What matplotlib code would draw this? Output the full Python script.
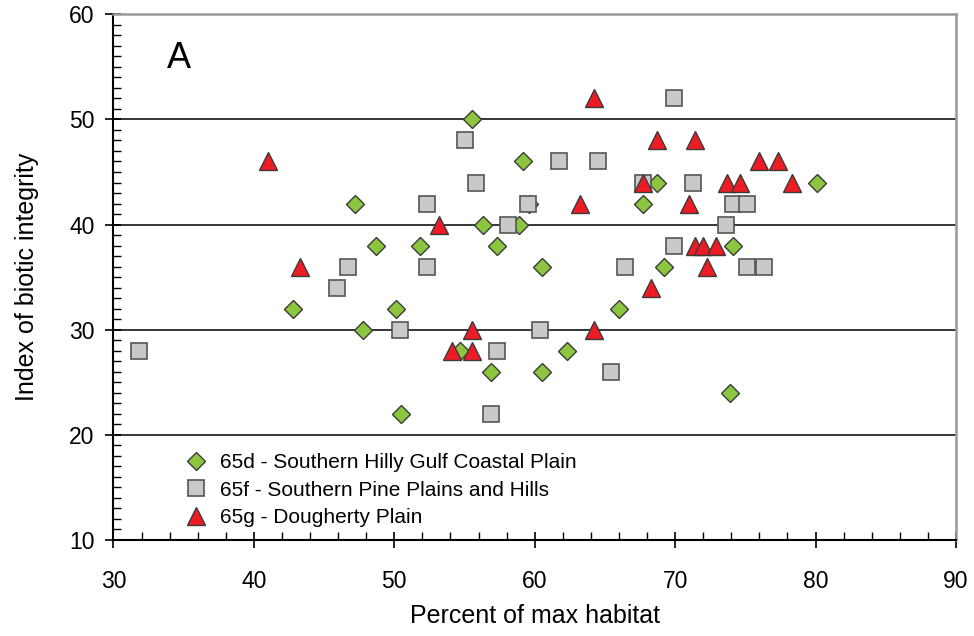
import matplotlib
matplotlib.use("Agg")
import matplotlib.pyplot as plt
from matplotlib.ticker import MultipleLocator

plt.rcParams['font.family'] = ['Liberation Sans', 'DejaVu Sans']

# 65d - Southern Hilly Gulf Coastal Plain
x_65d = [42.8, 47.2, 48.7, 47.8, 50.1, 50.5, 51.8, 55.5, 56.35, 54.7, 57.3, 59.2, 58.9,
         59.6, 60.5, 60.5, 56.9, 62.3, 66.0, 69.2, 67.7, 68.7, 74.1, 80.1, 73.9]
y_65d = [32, 42, 38, 30, 32, 22, 38, 50, 40, 28, 38, 46, 40,
         42, 36, 26, 26, 28, 32, 36, 42, 44, 38, 44, 24]

# 65f - Southern Pine Plains and Hills
x_65f = [31.8, 45.9, 46.7, 50.4, 52.3, 52.3, 55.0, 55.85, 58.1, 59.55, 61.7, 64.5, 69.9,
         67.7, 66.4, 69.9, 71.3, 74.1, 75.1, 73.6, 75.1, 76.3, 60.4, 57.3, 56.9, 65.4]
y_65f = [28, 34, 36, 30, 42, 36, 48, 44, 40, 42, 46, 46, 52,
         44, 36, 38, 44, 42, 42, 40, 36, 36, 30, 28, 22, 26]

# 65g - Dougherty Plain
x_65g = [41.0, 43.3, 53.2, 64.2, 68.7, 67.7, 63.2, 68.3, 71.4, 76.0, 77.3, 73.7, 74.6,
         78.3, 71.0, 71.4, 72.0, 72.9, 72.3, 55.5, 54.1, 55.5, 64.2]
y_65g = [46, 36, 40, 52, 48, 44, 42, 34, 48, 46, 46, 44, 44,
         44, 42, 38, 38, 38, 36, 30, 28, 28, 30]

labels = ["65d - Southern Hilly Gulf Coastal Plain",
          "65f - Southern Pine Plains and Hills",
          "65g - Dougherty Plain"]

fig = plt.figure(figsize=(9.74, 6.36), dpi=100)
ax = fig.add_axes([0.1165, 0.151, 0.865, 0.8265])

ax.plot(x_65d, y_65d, 'D', ms=9.5, mfc='#8cc63f', mec='#3a3a3a', mew=1.0, label=labels[0])
ax.plot(x_65f, y_65f, 's', ms=11, mfc='#c8c9cb', mec='#555555', mew=1.2, label=labels[1])
ax.plot(x_65g, y_65g, '^', ms=12.5, mfc='#ed1c24', mec='#3a3a3a', mew=1.0, label=labels[2])

ax.set_xlim(30, 90)
ax.set_ylim(10, 60)
ax.xaxis.set_major_locator(MultipleLocator(10))
ax.xaxis.set_minor_locator(MultipleLocator(2))
ax.yaxis.set_major_locator(MultipleLocator(10))
ax.yaxis.set_minor_locator(MultipleLocator(1))

for y in [20, 30, 40, 50]:
    ax.axhline(y, color='black', lw=1.1, zorder=0)

ax.tick_params(which='major', direction='inout', length=11, width=1.2, labelsize=16.5)
ax.tick_params(axis='x', which='major', pad=16)
ax.tick_params(axis='y', which='major', pad=8)
ax.tick_params(which='minor', direction='in', length=6, width=1.0)
ax.tick_params(top=False, right=False, which='both')

for s in ['left', 'bottom']:
    ax.spines[s].set_color('black')
    ax.spines[s].set_linewidth(1.5)
for s in ['top', 'right']:
    ax.spines[s].set_color('#999999')
    ax.spines[s].set_linewidth(1.8)

ax.set_xlabel('Percent of max habitat', fontsize=18, labelpad=8)
ax.set_ylabel('Index of biotic integrity', fontsize=18, labelpad=22)

ax.text(0.078, 0.915, 'A', transform=ax.transAxes, fontsize=26, ha='center', va='center')

ax.legend(loc='lower left', bbox_to_anchor=(0.058, 0.0), frameon=False, fontsize=15,
          handletextpad=0.15, labelspacing=0.42, borderaxespad=0.2)

fig.savefig('out.png', dpi=100)
